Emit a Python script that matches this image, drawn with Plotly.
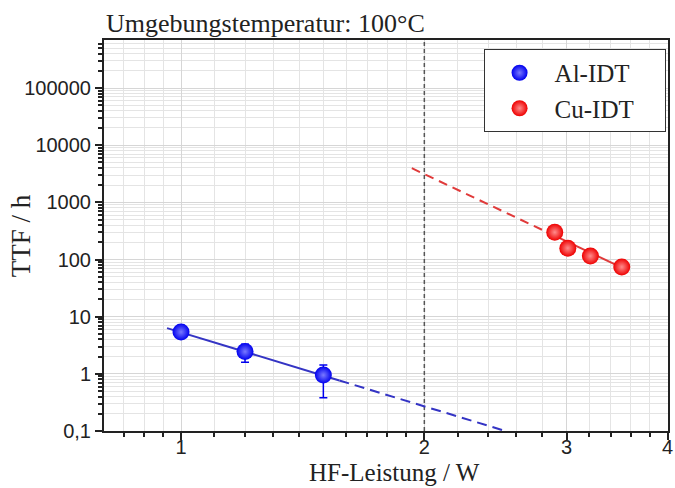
import math
import plotly.graph_objects as go

# Al-IDT measurements: power (W), time to failure (h) and error range
power_al = [1.0, 1.2, 1.5]
ttf_al = [5.4, 2.45, 0.95]
ttf_al_hi = [6.3, 3.3, 1.43]
ttf_al_lo = [4.7, 1.6, 0.38]

# Cu-IDT measurements
power_cu = [2.9, 3.01, 3.21, 3.51]
ttf_cu = [300, 158, 115, 74]

# Power-law fits (straight in log-log): end points of solid and extrapolated parts
fit_al_solid_x = [0.961, 1.57]
fit_al_solid_y = [6.3, 0.765]
fit_al_dash_x = [1.57, 2.52]
fit_al_dash_y = [0.765, 0.1]
fit_cu_dash_x = [1.93, 2.88]
fit_cu_dash_y = [3960, 272]
fit_cu_solid_x = [2.88, 3.565]
fit_cu_solid_y = [272, 65]

# Reference power marked by the vertical line
ref_power = [2, 2]
ref_span = [0.1, 1e6]

# Axis ticks
x_tickvals = [1, 2, 3, 4]
x_ticktext = ["1", "2", "3", "4"]
x_minor = [0.85, 0.9, 0.95, 1.1, 1.2, 1.3, 1.4, 1.5, 1.6, 1.7, 1.8, 1.9,
           2.2, 2.4, 2.6, 2.8, 3.2, 3.4, 3.6, 3.8]
y_tickvals = [0.1, 1, 10, 100, 1000, 10000, 100000]
y_ticktext = ["0,1", "1", "10", "100", "1000", "10000", "100000"]
y_minor = [k * 10 ** n for n in range(-1, 6) for k in range(2, 10)]

BLUE = "#0000ee"
RED = "#ee0000"
BLUE_LINE = "#3434c4"
RED_LINE = "#e03a3a"
SERIF = "Liberation Serif"
SANS = "Liberation Sans"
PAD = "\u00a0" * 4

fig = go.Figure()

fig.add_trace(go.Scatter(x=ref_power, y=ref_span, mode="lines",
                         line=dict(color="#555555", width=1.5, dash="4px,3px"),
                         showlegend=False, hoverinfo="skip"))

fig.add_trace(go.Scatter(x=fit_al_solid_x, y=fit_al_solid_y, mode="lines",
                         line=dict(color=BLUE_LINE, width=2), showlegend=False))
fig.add_trace(go.Scatter(x=fit_al_dash_x, y=fit_al_dash_y, mode="lines",
                         line=dict(color=BLUE_LINE, width=2, dash="10px,6px"),
                         showlegend=False))
fig.add_trace(go.Scatter(x=fit_cu_dash_x, y=fit_cu_dash_y, mode="lines",
                         line=dict(color=RED_LINE, width=2, dash="9px,6px"),
                         showlegend=False))
fig.add_trace(go.Scatter(x=fit_cu_solid_x, y=fit_cu_solid_y, mode="lines",
                         line=dict(color=RED_LINE, width=2), showlegend=False))

err_plus = [h - v for h, v in zip(ttf_al_hi, ttf_al)]
err_minus = [v - l for l, v in zip(ttf_al_lo, ttf_al)]

fig.add_trace(go.Scatter(
    x=power_al, y=ttf_al, mode="markers", name="Al-IDT" + PAD,
    marker=dict(size=17, color=BLUE, line=dict(width=0),
                gradient=dict(type="radial", color="#7a7aff")),
    error_y=dict(type="data", array=err_plus, arrayminus=err_minus,
                 color=BLUE, thickness=1.5, width=4),
))
fig.add_trace(go.Scatter(
    x=power_cu, y=ttf_cu, mode="markers", name="Cu-IDT" + PAD,
    marker=dict(size=17, color=RED, line=dict(width=0),
                gradient=dict(type="radial", color="#ff8c8c")),
))

axis_common = dict(
    type="log", showline=True, linecolor="#222222", linewidth=2, mirror=True,
    ticks="outside", ticklen=7, tickwidth=1.5, tickcolor="#222222",
    showgrid=True, gridcolor="#d6d6d6", gridwidth=1, zeroline=False,
    tickfont=dict(family=SANS, size=20, color="#222222"),
    ticklabeloverflow="allow",
)

fig.update_xaxes(
    **axis_common,
    ticklabelstandoff=-10,
    range=[math.log10(0.803), 0.6025],
    tickmode="array", tickvals=x_tickvals, ticktext=x_ticktext,
    minor=dict(tickmode="array", tickvals=x_minor, ticks="outside", ticklen=4,
               tickcolor="#222222", showgrid=True, gridcolor="#e4e4e4"),
)
fig.update_yaxes(
    **axis_common,
    range=[-1, 5.84],
    tickmode="array", tickvals=y_tickvals, ticktext=y_ticktext,
    minor=dict(tickmode="array", tickvals=y_minor, ticks="outside", ticklen=4,
               tickcolor="#222222", showgrid=True, gridcolor="#e4e4e4"),
)

fig.add_annotation(text="Umgebungstemperatur: 100°C", xref="paper", yref="paper",
                   x=0, y=1.041, xanchor="left", yanchor="middle", showarrow=False,
                   font=dict(family=SERIF, size=26, color="#222222"))
fig.add_annotation(text="TTF / h", xref="paper", yref="paper",
                   x=-0.1476, y=0.5, xanchor="center", yanchor="middle",
                   textangle=-90, showarrow=False,
                   font=dict(family=SERIF, size=27, color="#222222"))
fig.add_annotation(text="HF-Leistung / W", xref="paper", yref="paper",
                   x=0.515, y=-0.107, xanchor="center", yanchor="middle",
                   showarrow=False,
                   font=dict(family=SERIF, size=25, color="#222222"))

fig.update_layout(
    width=675, height=488,
    margin=dict(l=104, r=2, t=40, b=57),
    paper_bgcolor="white", plot_bgcolor="white",
    showlegend=True,
    legend=dict(x=0.673, y=0.977, xanchor="left", yanchor="top",
                bgcolor="white", bordercolor="#333333", borderwidth=1,
                font=dict(family=SERIF, size=25, color="#222222"),
                itemwidth=60, tracegroupgap=0),
)

fig.write_html("out.html")
